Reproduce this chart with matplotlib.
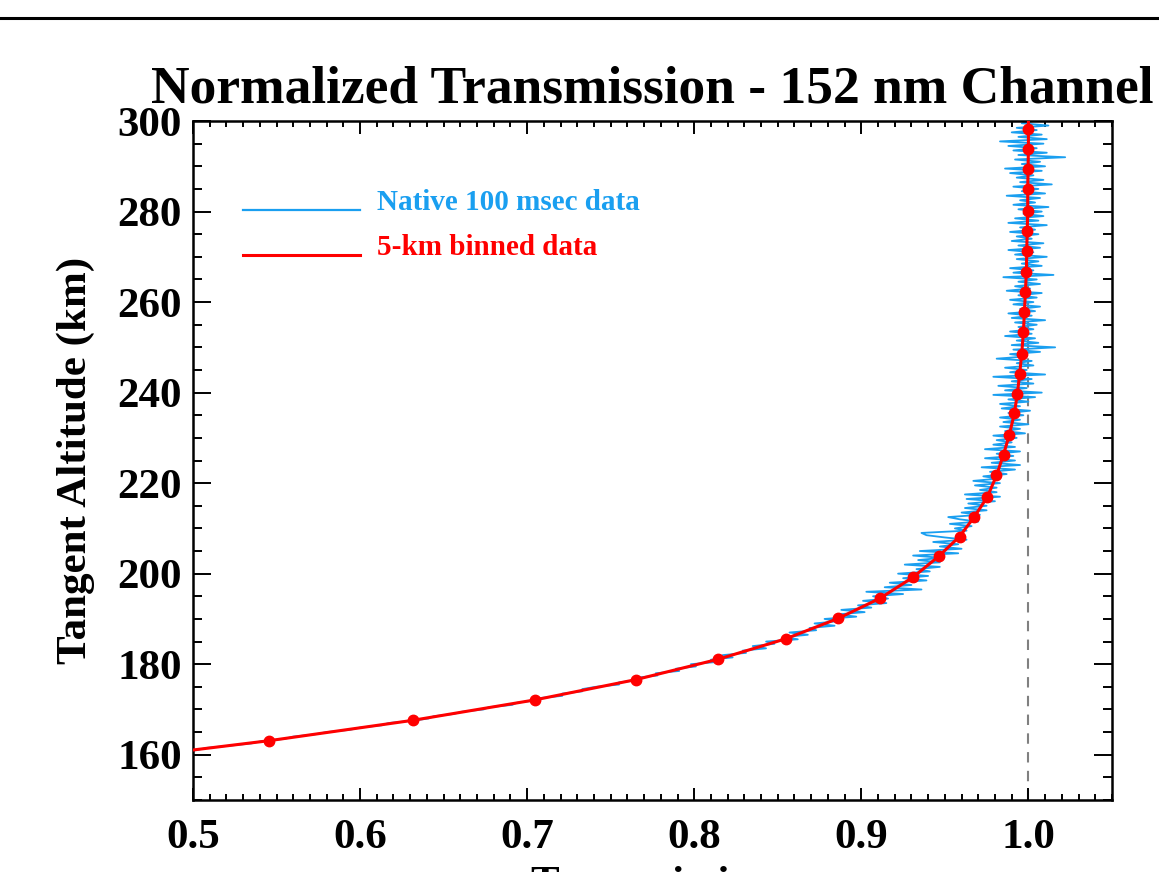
import numpy as np
import matplotlib.pyplot as plt
from matplotlib.lines import Line2D
from matplotlib.ticker import MultipleLocator

plt.rcParams['font.family'] = ['Liberation Serif', 'DejaVu Serif']
plt.rcParams['font.weight'] = 'bold'

BLUE = '#1a9ff0'
RED = '#ff0000'

# 5-km binned points (altitude km, normalized transmission)
binned_alt = [163.1, 167.6, 172.1, 176.6, 181.1, 185.6, 190.1, 194.6, 199.2, 203.8,
              208.2, 212.6, 217.0, 221.7, 226.3, 230.7, 235.4, 239.8, 244.2, 248.6,
              253.3, 257.7, 262.3, 266.7, 271.2, 275.8, 280.2, 284.9, 289.3, 293.9, 298.3]
binned_trans = [0.5456, 0.6316, 0.7045, 0.7652, 0.8144, 0.8547, 0.8861, 0.9114, 0.9309, 0.9462,
                0.9588, 0.9677, 0.9755, 0.9809, 0.9851, 0.9886, 0.9916, 0.9934, 0.9948, 0.9960,
                0.9970, 0.9976, 0.9982, 0.9988, 0.9990, 0.9993, 0.9996, 0.9996, 0.9998, 1.0000, 1.0000]

# red curve runs a little past the first and last bins
curve_alt = [160.5] + binned_alt + [300.0]
curve_trans = [0.488] + binned_trans + [1.000]

# native 100 msec samples, 160-300 km every 0.5 km
native_trans = [
    0.479, 0.487, 0.502, 0.508, 0.522, 0.535, 0.541, 0.555, 0.560, 0.573,
    0.580, 0.594, 0.600, 0.613, 0.617, 0.631, 0.641, 0.644, 0.656, 0.661,
    0.674, 0.677, 0.691, 0.694, 0.705, 0.707, 0.721, 0.721, 0.733, 0.733,
    0.741, 0.755, 0.755, 0.768, 0.765, 0.778, 0.777, 0.791, 0.789, 0.801,
    0.798, 0.814, 0.810, 0.823, 0.817, 0.831, 0.829, 0.843, 0.835, 0.848,
    0.843, 0.862, 0.854, 0.868, 0.857, 0.873, 0.869, 0.884, 0.872, 0.886,
    0.878, 0.897, 0.886, 0.902, 0.888, 0.906, 0.898, 0.915, 0.901, 0.916,
    0.907, 0.925, 0.903, 0.936, 0.914, 0.930, 0.917, 0.939, 0.925, 0.940,
    0.922, 0.941, 0.933, 0.947, 0.926, 0.947, 0.934, 0.948, 0.931, 0.958,
    0.935, 0.960, 0.947, 0.958, 0.943, 0.963, 0.950, 0.939, 0.936, 0.963,
    0.956, 0.966, 0.953, 0.970, 0.959, 0.952, 0.971, 0.960, 0.975, 0.962,
    0.975, 0.964, 0.980, 0.963, 0.983, 0.962, 0.981, 0.971, 0.981, 0.968,
    0.983, 0.967, 0.982, 0.973, 0.987, 0.977, 0.992, 0.972, 0.995, 0.978,
    0.992, 0.974, 0.991, 0.981, 0.995, 0.974, 0.992, 0.979, 0.990, 0.981,
    0.993, 0.979, 0.998, 0.986, 0.995, 0.983, 1.000, 0.985, 0.995, 0.983,
    0.997, 0.988, 1.001, 0.984, 0.995, 0.983, 1.000, 0.988, 1.004, 0.979,
    1.008, 0.986, 0.999, 0.982, 1.003, 0.990, 1.002, 0.979, 1.010, 0.989,
    0.999, 0.986, 1.003, 0.993, 1.002, 0.981, 0.999, 0.989, 1.007, 0.991,
    1.016, 0.990, 1.006, 0.993, 1.004, 0.986, 1.002, 0.989, 1.003, 0.994,
    1.005, 0.992, 1.010, 0.990, 1.002, 0.988, 1.004, 0.995, 1.007, 0.991,
    1.003, 0.989, 1.005, 0.994, 1.008, 0.987, 1.001, 0.992, 1.007, 0.994,
    1.005, 0.985, 1.015, 0.991, 1.003, 0.989, 1.008, 0.996, 1.006, 0.993,
    1.011, 0.992, 1.003, 0.988, 1.007, 0.994, 1.009, 0.990, 1.002, 0.993,
    1.006, 0.989, 1.004, 0.995, 1.011, 0.988, 1.006, 0.992, 1.009, 0.997,
    1.008, 0.994, 1.012, 0.991, 1.004, 0.995, 1.007, 0.987, 1.010, 0.996,
    1.006, 0.991, 1.014, 0.995, 1.009, 0.993, 1.003, 0.989, 1.008, 0.986,
    1.010, 0.996, 1.007, 0.992, 1.022, 0.994, 1.011, 0.991, 1.005, 0.988,
    1.009, 0.983, 1.011, 0.994, 1.008, 0.990, 1.005, 0.993, 1.012, 0.996, 1.003,
]
native_alt = np.linspace(160.0, 300.0, len(native_trans))

x_ticks = [0.5, 0.6, 0.7, 0.8, 0.9, 1.0]
y_ticks = [160, 180, 200, 220, 240, 260, 280, 300]

fig = plt.figure(figsize=(11.59, 8.72), dpi=100)
ax = fig.add_axes([0.1665, 0.0826, 0.7929, 0.7786])

ax.axvline(1.0, color='#808080', lw=1.5, ls=(0, (5, 4)), zorder=1)
ax.plot(native_trans, native_alt, color=BLUE, lw=1.3, zorder=2)
ax.plot(curve_trans, curve_alt, color=RED, lw=2.2, zorder=3)
ax.plot(binned_trans, binned_alt, 'o', color=RED, ms=7.5, zorder=4)

ax.set_xlim(0.5, 1.05)
ax.set_ylim(150, 300)
ax.set_xticks(x_ticks)
ax.set_xticklabels([f'{v:.1f}' for v in x_ticks])
ax.set_yticks(y_ticks)
ax.xaxis.set_minor_locator(MultipleLocator(0.01))
ax.yaxis.set_minor_locator(MultipleLocator(5))

for s in ax.spines.values():
    s.set_linewidth(1.8)
ax.tick_params(which='both', direction='in', top=True, right=True, width=1.4,
               labelsize=31, colors='black')
ax.tick_params(axis='x', which='major', length=9, pad=14)
ax.tick_params(axis='x', which='minor', length=4.5)
ax.tick_params(axis='y', which='major', length=13, pad=8)
ax.tick_params(axis='y', which='minor', length=6.5)

ax.set_title('Normalized Transmission - 152 nm Channel', fontsize=38.5,
             fontweight='bold', pad=13)
ax.set_ylabel('Tangent Altitude (km)', fontsize=31, fontweight='bold', labelpad=16)
ax.set_xlabel('Transmission', fontsize=31, fontweight='bold', labelpad=6)

# legend drawn by hand, IDL style
ax.plot([0.054, 0.182], [0.869, 0.869], color=BLUE, lw=1.6, transform=ax.transAxes)
ax.plot([0.054, 0.182], [0.802, 0.802], color=RED, lw=2.2, transform=ax.transAxes)
ax.text(0.200, 0.869, 'Native 100 msec data', color=BLUE, fontsize=21,
        fontweight='bold', va='baseline', transform=ax.transAxes)
ax.text(0.200, 0.802, '5-km binned data', color=RED, fontsize=21,
        fontweight='bold', va='baseline', transform=ax.transAxes)

# rule across the top of the page
fig.add_artist(Line2D([0, 1], [0.9794, 0.9794], color='black', lw=2.2,
                      transform=fig.transFigure))

fig.savefig('out.png', dpi=100)
